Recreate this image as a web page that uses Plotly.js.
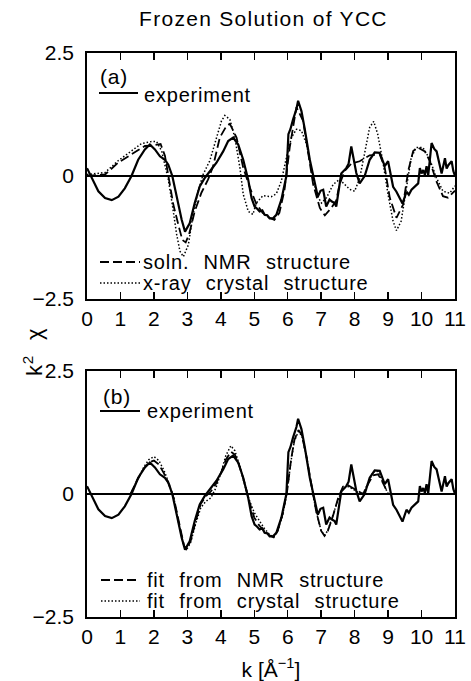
<!DOCTYPE html>
<html><head><meta charset="utf-8">
<script src="https://cdn.plot.ly/plotly-3.0.1.min.js"></script>
<style>
html,body{margin:0;padding:0;background:#fff}
.annotation-text{letter-spacing:0.8px; word-spacing:8px}
.gtitle{letter-spacing:1.3px}
</style>
</head><body><div id="chart" style="width:471px;height:681px"></div>
<script>
// experiment (same data in both panels)
const kExp = [0, 0.14, 0.34, 0.54, 0.74, 0.94, 1.13, 1.33, 1.53, 1.73, 1.88, 2.03, 2.18, 2.33, 2.43, 2.55, 2.68, 2.83, 2.93, 3.07, 3.22, 3.37, 3.52, 3.67, 3.87, 4.07, 4.22, 4.37, 4.52, 4.67, 4.82, 4.92, 5.01, 5.08, 5.16, 5.24, 5.31, 5.39, 5.46, 5.56, 5.66, 5.81, 5.96, 6.02, 6.08, 6.16, 6.26, 6.31, 6.41, 6.51, 6.66, 6.81, 6.9, 6.98, 7.06, 7.15, 7.25, 7.32, 7.4, 7.45, 7.52, 7.6, 7.75, 7.82, 7.9, 8.05, 8.15, 8.3, 8.45, 8.6, 8.75, 8.9, 9.0, 9.15, 9.25, 9.35, 9.43, 9.55, 9.62, 9.7, 9.8, 9.9, 9.95, 10.0, 10.05, 10.1, 10.15, 10.2, 10.3, 10.38, 10.45, 10.52, 10.6, 10.7, 10.75, 10.8, 10.9, 10.95, 11.0];
const chiExp = [0.16, -0.04, -0.31, -0.45, -0.49, -0.42, -0.25, 0, 0.33, 0.54, 0.64, 0.54, 0.40, 0.33, 0.23, 0, -0.42, -0.89, -1.13, -0.96, -0.55, -0.21, -0.04, 0.10, 0.27, 0.50, 0.71, 0.78, 0.64, 0.33, -0.08, -0.45, -0.62, -0.66, -0.72, -0.70, -0.79, -0.80, -0.86, -0.86, -0.79, -0.48, 0, 0.85, 0.95, 1.15, 1.36, 1.53, 1.32, 0.95, 0.33, -0.14, -0.42, -0.30, -0.28, -0.62, -0.48, -0.52, -0.55, -0.62, -0.30, 0.05, 0.16, 0.25, 0.6, 0.06, -0.15, 0, 0.33, 0.48, 0.47, 0.2, 0.3, -0.22, -0.32, -0.45, -0.56, -0.32, -0.38, -0.28, -0.22, -0.15, 0.16, 0.05, 0.12, 0.02, 0.2, 0.02, 0.67, 0.55, 0.5, 0.3, 0.05, 0.36, 0.15, 0.22, 0.3, 0.1, 0];

// (a) simulations
const kNmr = [0, 0.54, 0.93, 1.33, 1.73, 1.95, 2.2, 2.33, 2.43, 2.58, 2.73, 2.85, 2.95, 3.05, 3.22, 3.42, 3.62, 3.77, 3.97, 4.17, 4.27, 4.47, 4.67, 4.87, 5.05, 5.25, 5.45, 5.6, 5.75, 5.9, 6.06, 6.16, 6.26, 6.46, 6.61, 6.76, 6.96, 7.11, 7.3, 7.45, 7.55, 7.7, 7.9, 8.15, 8.45, 8.75, 8.9, 9.05, 9.25, 9.45, 9.6, 9.75, 9.89, 10.1, 10.25, 10.44, 10.64, 10.79, 10.94, 11.0];
const chiNmr = [0, 0.03, 0.27, 0.44, 0.61, 0.62, 0.65, 0.41, 0.0, -0.58, -0.99, -1.3, -1.35, -1.19, -0.72, -0.34, -0.07, 0.2, 0.78, 1.02, 1.06, 0.78, 0.17, -0.24, -0.55, -0.75, -0.85, -0.89, -0.75, -0.3, 0.58, 1.0, 1.4, 1.12, 0.51, -0.17, -0.65, -0.8, -0.65, -0.5, -0.17, 0.1, 0.25, 0.3, 0.42, 0.44, 0.17, -0.44, -0.85, -0.58, 0.1, 0.51, 0.58, 0.5, 0.3, -0.1, -0.41, -0.44, -0.34, -0.3];
const kXray = [0, 0.54, 0.93, 1.33, 1.63, 1.93, 2.08, 2.23, 2.33, 2.43, 2.55, 2.68, 2.78, 2.88, 3.03, 3.17, 3.32, 3.47, 3.67, 3.87, 4.02, 4.12, 4.27, 4.42, 4.57, 4.67, 4.82, 4.96, 5.06, 5.26, 5.51, 5.66, 5.81, 5.96, 6.11, 6.26, 6.41, 6.56, 6.71, 6.86, 7.01, 7.16, 7.36, 7.55, 7.85, 8.0, 8.15, 8.3, 8.45, 8.57, 8.69, 8.84, 9.0, 9.15, 9.25, 9.39, 9.54, 9.69, 9.84, 10.04, 10.24, 10.44, 10.64, 10.84, 11.0];
const chiXray = [0.03, 0.07, 0.31, 0.51, 0.66, 0.7, 0.7, 0.51, 0.24, -0.07, -0.58, -1.19, -1.53, -1.64, -1.4, -0.78, -0.31, 0.03, 0.31, 0.78, 1.12, 1.23, 1.15, 0.78, 0.17, -0.37, -0.72, -0.78, -0.55, -0.4, -0.42, -0.36, -0.1, 0.37, 0.78, 0.95, 0.92, 0.65, 0.1, -0.37, -0.55, -0.44, -0.17, -0.07, -0.27, -0.31, -0.05, 0.51, 0.99, 1.11, 0.85, 0.31, -0.38, -0.92, -1.11, -0.92, -0.24, 0.37, 0.58, 0.58, 0.35, -0.03, -0.31, -0.35, -0.2];

// (b) fits
const kFit = [1.3, 1.5, 1.7, 1.85, 2.0, 2.15, 2.3, 2.45, 2.6, 2.75, 2.9, 2.97, 3.1, 3.25, 3.4, 3.55, 3.7, 3.85, 4.0, 4.15, 4.3, 4.42, 4.55, 4.7, 4.85, 5.0, 5.15, 5.3, 5.45, 5.58, 5.7, 5.85, 5.98, 6.1, 6.2, 6.32, 6.42, 6.55, 6.7, 6.85, 7.0, 7.1, 7.2, 7.35, 7.5, 7.65, 7.8, 7.95, 8.1, 8.25, 8.4, 8.55, 8.7, 8.85, 9.0];
const chiFitNmr = [0.0, 0.28, 0.52, 0.64, 0.68, 0.6, 0.42, 0.2, -0.1, -0.6, -1.05, -1.12, -0.95, -0.55, -0.2, -0.05, 0.05, 0.2, 0.42, 0.7, 0.86, 0.8, 0.58, 0.25, -0.15, -0.48, -0.64, -0.75, -0.84, -0.88, -0.75, -0.4, 0.05, 0.7, 1.1, 1.3, 1.2, 0.8, 0.2, -0.35, -0.75, -0.85, -0.75, -0.45, -0.1, 0.15, 0.18, 0.12, 0.05, 0.0, 0.2, 0.38, 0.4, 0.22, 0.0];
const chiFitXtal = [0.0, 0.28, 0.55, 0.7, 0.76, 0.68, 0.48, 0.22, -0.1, -0.62, -1.08, -1.14, -0.98, -0.6, -0.28, -0.15, -0.08, 0.12, 0.42, 0.78, 0.98, 0.88, 0.6, 0.22, -0.12, -0.38, -0.55, -0.7, -0.82, -0.88, -0.75, -0.42, 0.05, 0.68, 1.08, 1.27, 1.18, 0.8, 0.2, -0.35, -0.75, -0.84, -0.74, -0.45, -0.12, 0.12, 0.15, 0.1, 0.03, 0.0, 0.24, 0.45, 0.46, 0.24, 0.0];

const xTicks = [0,1,2,3,4,5,6,7,8,9,10,11];
const yTicks = [-2.5, 0, 2.5];
const yTickText = ['\u22122.5', '0', '2.5'];

const FONT = 'Liberation Sans, Arial, sans-serif';
const solid = {color:'#000', width:2.2};
const dashed = {color:'#000', width:1.8, dash:'9px,4px'};
const dotted = {color:'#000', width:1.5, dash:'1.5px,2px'};

const traces = [
  {x:kXray, y:chiXray, xaxis:'x', yaxis:'y', mode:'lines', line:dotted, name:'x-ray crystal structure'},
  {x:kNmr, y:chiNmr, xaxis:'x', yaxis:'y', mode:'lines', line:dashed, name:'soln. NMR structure'},
  {x:kExp, y:chiExp, xaxis:'x', yaxis:'y', mode:'lines', line:solid, name:'experiment'},
  {x:kFit, y:chiFitXtal, xaxis:'x2', yaxis:'y2', mode:'lines', line:dotted, name:'fit from crystal structure'},
  {x:kFit, y:chiFitNmr, xaxis:'x2', yaxis:'y2', mode:'lines', line:dashed, name:'fit from NMR structure'},
  {x:kExp, y:chiExp, xaxis:'x2', yaxis:'y2', mode:'lines', line:solid, name:'experiment'}
];

const H = 681, W = 471, L = 87, R = 16, T = 53, B = 64;
const PW = W - L - R, PH = H - T - B;
const px = v => (v - L) / PW;
const py = v => (H - B - v) / PH;

function xaxis(anchor){
  return {anchor:anchor, domain:[0,1], range:[0,11], tickvals:xTicks, ticktext:xTicks.map(String),
    ticks:'inside', ticklen:7, tickwidth:1.5, tickcolor:'#000', showline:true, linewidth:1.8, linecolor:'#000',
    mirror:'ticks', showgrid:false, zeroline:false, tickfont:{family:FONT, size:21, color:'#000'}};
}
function yaxis(anchor, dom){
  return {anchor:anchor, domain:dom, range:[-2.5,2.5], tickvals:yTicks, ticktext:yTickText,
    ticks:'', showline:true, linewidth:1.8, linecolor:'#000', mirror:true, showgrid:false, ticklabelstandoff:7,
    zeroline:true, zerolinecolor:'#000', zerolinewidth:1.8, tickfont:{family:FONT, size:21, color:'#000'}};
}

const topDom = [py(299), 1];
const botDom = [0, py(371)];

const ann = (text, x, y, anchor, size) => ({text:text, x:px(x), y:py(y), xref:'paper', yref:'paper',
  xanchor:anchor||'left', align:anchor==='center'?'center':'left', yanchor:'middle', showarrow:false,
  font:{family:FONT, size:size||20, color:'#000'}});
const seg = (x0, x1, y, line) => ({type:'line', xref:'paper', yref:'paper', x0:px(x0), x1:px(x1), y0:py(y), y1:py(y), line:line});

const xa = xaxis('y'); const xb = xaxis('y2');
xb.title = {text:'k [\u00C5<sup>\u22121</sup>]', font:{family:FONT, size:21, color:'#000'}, standoff:19};

const layout = {
  width:W, height:H, margin:{l:L, r:R, t:T, b:B}, showlegend:false,
  paper_bgcolor:'#fff', plot_bgcolor:'#fff',
  title:{text:'Frozen Solution of YCC', font:{family:FONT, size:21, color:'#000'},
         xref:'paper', x:px(139), xanchor:'left', yref:'container', y:1 - 19/H, yanchor:'middle'},
  xaxis:xa, yaxis:yaxis('x', topDom), xaxis2:xb, yaxis2:yaxis('x2', botDom),
  annotations:[
    ann('(a)', 114, 77, 'center', 21),
    ann('experiment', 142, 95),
    ann('soln. NMR structure', 141, 262),
    ann('x-ray crystal structure', 141, 283),
    ann('(b)', 117, 396, 'center', 21),
    ann('experiment', 145, 411),
    ann('fit from NMR structure', 145, 580),
    ann('fit from crystal structure', 145, 601),
    {text:'k<sup>2</sup> \u03C7', x:px(33), y:py(352), xref:'paper', yref:'paper', xanchor:'center', yanchor:'middle',
     textangle:-90, showarrow:false, font:{family:FONT, size:22, color:'#000'}}
  ],
  shapes:[
    seg(99, 138, 93, {color:'#000', width:2}),
    seg(100, 140, 262, {color:'#000', width:1.8, dash:'9px,4px'}),
    seg(100, 140, 283, {color:'#000', width:1.5, dash:'1.5px,2px'}),
    seg(100, 140, 411, {color:'#000', width:2}),
    seg(101, 140, 580, {color:'#000', width:1.8, dash:'9px,4px'}),
    seg(101, 140, 601, {color:'#000', width:1.5, dash:'1.5px,2px'})
  ]
};

Plotly.newPlot('chart', traces, layout, {displayModeBar:false, staticPlot:true});
</script></body></html>
